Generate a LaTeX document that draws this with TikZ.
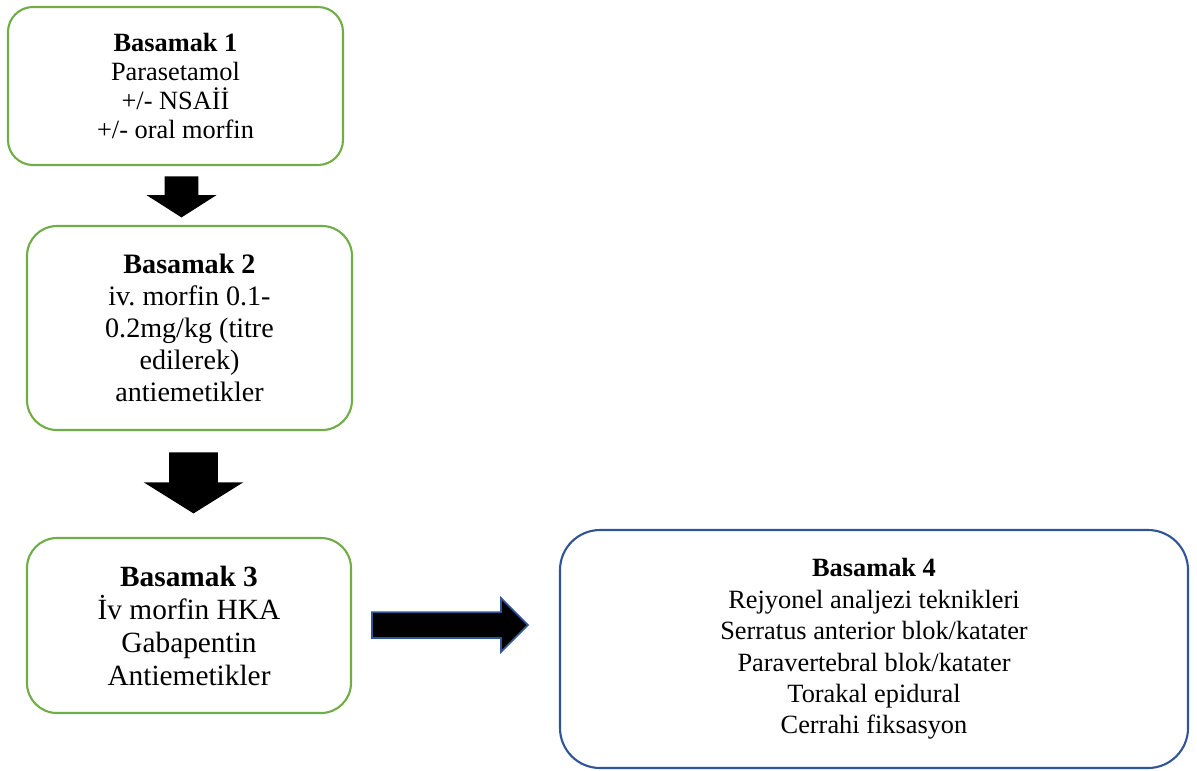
\documentclass[tikz,border=0pt]{standalone}
\usepackage{fontspec}
\setmainfont{Liberation Serif}
\usetikzlibrary{shapes.arrows,calc}

\definecolor{kutuyesil}{RGB}{112,173,71}
\definecolor{kutumavi}{RGB}{47,85,151}

\begin{document}
\begin{tikzpicture}[
    basamak/.style={draw=kutuyesil, line width=1.2pt, rounded corners=0.6cm, align=center, inner sep=0pt},
    blokok/.style={single arrow, fill=black, inner xsep=0pt, anchor=tail}
]
    % sayfa sinirlari
    \useasboundingbox (0,0) rectangle (23.94,-15.4);

    % Basamak 1-3 (yesil kutular)
    \node[basamak, rounded corners=0.5cm, minimum width=6.7cm, minimum height=3.16cm,
        font=\fontsize{15}{16.5}\selectfont] (b1) at (3.51,-1.72)
        {\textbf{Basamak 1}\\Parasetamol\\+/- NSAİİ\\+/- oral morfin};
    \node[basamak, minimum width=6.5cm, minimum height=4.08cm,
        font=\fontsize{16}{18.2}\selectfont] (b2) at (3.79,-6.56)
        {\textbf{Basamak 2}\\iv.\ morfin 0.1-\\0.2mg/kg (titre\\edilerek)\\antiemetikler};
    \node[basamak, minimum width=6.48cm, minimum height=3.5cm,
        font=\fontsize{16.7}{18.8}\selectfont] (b3) at (3.78,-12.51)
        {\textbf{Basamak 3}\\İv morfin HKA\\Gabapentin\\Antiemetikler};

    % Basamak 4 (mavi kutu)
    \node[basamak, draw=kutumavi, rounded corners=0.8cm, minimum width=12.56cm, minimum height=4.76cm,
        font=\fontsize{15}{17.9}\selectfont] (b4) at (17.48,-12.98)
        {\textbf{Basamak 4}\\Rejyonel analjezi teknikleri\\Serratus anterior blok/katater\\Paravertebral blok/katater\\Torakal epidural\\Cerrahi fiksasyon};

    % blok oklar
    \node[blokok, rotate=-90, inner ysep=0.33cm, minimum height=0.82cm,
        single arrow head extend=0.36cm, single arrow tip angle=115] (ok1)
        at ($(b1.south)+(0.12,-0.2)$) {};
    \node[blokok, rotate=-90, inner ysep=0.48cm, minimum height=1.22cm,
        single arrow head extend=0.51cm, single arrow tip angle=116] (ok2)
        at ($(b2.south)+(0.08,-0.42)$) {};
    \node[blokok, draw=kutumavi, line width=1pt, inner ysep=0.24cm, minimum height=3.12cm,
        single arrow head extend=0.28cm] (ok3)
        at ($(b3.east)+(0.38,0.01)$) {};
\end{tikzpicture}
\end{document}
